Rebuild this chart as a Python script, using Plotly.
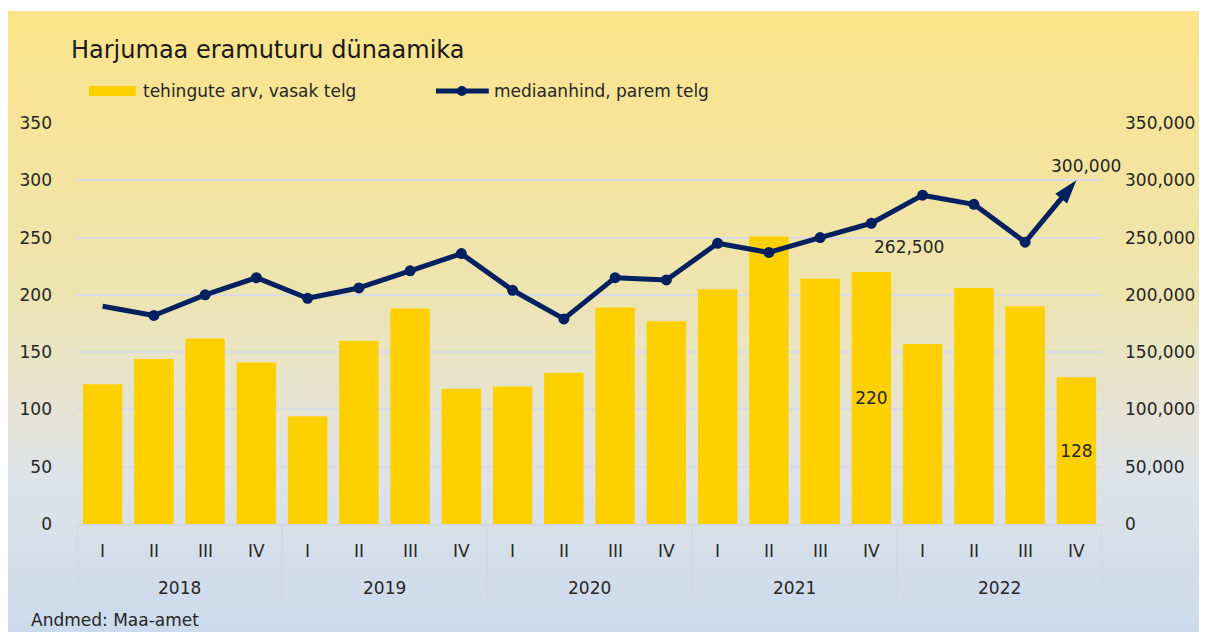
import plotly.graph_objects as go

years = ["2018"] * 4 + ["2019"] * 4 + ["2020"] * 4 + ["2021"] * 4 + ["2022"] * 4
quarters = ["I", "II", "III", "IV"] * 5

# tehingute arv (vasak telg)
deals = [122, 144, 162, 141, 94, 160, 188, 118, 120, 132, 189, 177,
         205, 251, 214, 220, 157, 206, 190, 128]
# mediaanhind (parem telg)
median_price = [190000, 182000, 200000, 215000, 197000, 206000, 221000, 236000,
                204000, 179000, 215000, 213000, 245000, 237000, 250000, 262500,
                287000, 279000, 246000, 300000]

bar_labels = {15: "220", 19: "128"}
line_labels = {15: "262,500", 19: "300,000"}

FONT = "DejaVu Sans"
TXT = "#262626"
OFF = 8  # page margin of the browser
W, H = 1199, 624
L, R, T, B = 69, 102, 115, 108  # plot area in figure pixels


def px2x(px):
    return (px - OFF - L) / (W - L - R)


def py2y(py):
    return (H - B - (py - OFF)) / (H - T - B)


def mix(c1, c2, t):
    return tuple(round(a + (b - a) * t) for a, b in zip(c1, c2))


# background gradient stops (fraction from top, rgb)
stops = [(0.0, (252, 228, 138)), (0.45, (238, 228, 176)),
         (0.75, (223, 227, 232)), (1.0, (203, 218, 236))]


def grad(f):
    for (f0, c0), (f1, c1) in zip(stops, stops[1:]):
        if f <= f1:
            return mix(c0, c1, (f - f0) / (f1 - f0))
    return stops[-1][1]


shapes = []
top, bottom, n = 11, 632, 90
step = (bottom - top) / n
for i in range(n):
    c = grad((i + 0.5) / n)
    y0 = top + i * step
    shapes.append(dict(type="rect", xref="paper", yref="paper", layer="below",
                       x0=px2x(0), x1=px2x(1215), y0=py2y(y0 + step + 0.6), y1=py2y(y0),
                       fillcolor="rgb(%d,%d,%d)" % c, line_width=0))

# legend drawn by hand
shapes.append(dict(type="rect", xref="paper", yref="paper",
                   x0=px2x(89), x1=px2x(136), y0=py2y(96), y1=py2y(86),
                   fillcolor="#FFD000", line_width=0))
shapes.append(dict(type="line", xref="paper", yref="paper",
                   x0=px2x(437), x1=px2x(490), y0=py2y(91), y1=py2y(91),
                   line=dict(color="#002060", width=5)))
shapes.append(dict(type="circle", xref="paper", yref="paper",
                   x0=px2x(458), x1=px2x(468), y0=py2y(96), y1=py2y(86),
                   fillcolor="#002060", line_width=0))

cats = [f"{y} {q}" for y, q in zip(years, quarters)]

fig = go.Figure()
fig.add_trace(go.Bar(
    x=cats, y=deals, name="tehingute arv, vasak telg",
    marker=dict(color="#FFD000", line_width=0),
    text=[bar_labels.get(i, "") for i in range(len(deals))],
    textposition="inside", insidetextanchor="middle", textangle=0,
    textfont=dict(family=FONT, size=17, color=TXT),
))
fig.add_trace(go.Scatter(
    x=cats, y=median_price, name="mediaanhind, parem telg", yaxis="y2",
    mode="lines+markers",
    line=dict(color="#002060", width=5),
    marker=dict(color="#002060", line_width=0, opacity=1,
                symbol=["circle"] * (len(median_price) - 1) + ["arrow"],
                size=[11] * (len(median_price) - 1) + [25],
                angleref="previous"),
))

annotations = [
    dict(text="Harjumaa eramuturu dünaamika", xref="paper", yref="paper",
         x=px2x(69), y=py2y(50), xanchor="left", yanchor="middle", showarrow=False,
         font=dict(family=FONT, size=24, color="#1a1a1a")),
    dict(text="tehingute arv, vasak telg", xref="paper", yref="paper",
         x=px2x(141), y=py2y(91), xanchor="left", yanchor="middle", showarrow=False,
         font=dict(family=FONT, size=17, color=TXT)),
    dict(text="mediaanhind, parem telg", xref="paper", yref="paper",
         x=px2x(493), y=py2y(91), xanchor="left", yanchor="middle", showarrow=False,
         font=dict(family=FONT, size=17, color=TXT)),
    dict(text="Andmed: Maa-amet", xref="paper", yref="paper",
         x=px2x(29), y=py2y(620), xanchor="left", yanchor="middle", showarrow=False,
         font=dict(family=FONT, size=17, color=TXT)),
]
offsets = {15: (38, -24), 19: (10, 14)}
for i, txt in line_labels.items():
    dx, dy = offsets[i]
    annotations.append(dict(text=txt, x=i, y=median_price[i], xref="x", yref="y2",
                            xshift=dx, yshift=dy, showarrow=False,
                            font=dict(family=FONT, size=17, color=TXT)))

# two-level category labels with dividers
for i, q in enumerate(quarters):
    annotations.append(dict(text=q, x=i, xref="x", y=py2y(551), yref="paper",
                            showarrow=False, yanchor="middle",
                            font=dict(family=FONT, size=17, color=TXT)))
groups = []
for i, y in enumerate(years):
    if not groups or groups[-1][0] != y:
        groups.append([y, i, i])
    groups[-1][2] = i
for y, i0, i1 in groups:
    annotations.append(dict(text=y, x=(i0 + i1) / 2, xref="x", y=py2y(588), yref="paper",
                            showarrow=False, yanchor="middle",
                            font=dict(family=FONT, size=17, color=TXT)))
    shapes.append(dict(type="line", xref="x", yref="paper", x0=i0 - 0.5, x1=i0 - 0.5,
                       y0=py2y(524), y1=py2y(601), line=dict(color="#D4D8E0", width=2)))
shapes.append(dict(type="line", xref="x", yref="paper",
                   x0=len(years) - 0.5, x1=len(years) - 0.5,
                   y0=py2y(524), y1=py2y(601), line=dict(color="#D4D8E0", width=2)))

fig.update_layout(
    width=W, height=H,
    margin=dict(l=L, r=R, t=T, b=B),
    paper_bgcolor="white", plot_bgcolor="rgba(0,0,0,0)",
    showlegend=False, bargap=0.23,
    font=dict(family=FONT, size=17, color=TXT),
    shapes=shapes, annotations=annotations,
    xaxis=dict(type="category", range=[-0.5, len(cats) - 0.5], showticklabels=False,
               showline=True, linecolor="#D4D8E0", linewidth=2, ticks="", showgrid=False),
    yaxis=dict(range=[0, 350], dtick=50, showgrid=True, gridcolor="#D9DCE6", gridwidth=1.5,
               zeroline=False, ticklabelstandoff=24,
               tickfont=dict(family=FONT, size=17, color=TXT)),
    yaxis2=dict(range=[0, 350000], dtick=50000, overlaying="y", side="right",
                showgrid=False, zeroline=False, tickformat=",", ticklabelstandoff=22,
                tickfont=dict(family=FONT, size=17, color=TXT)),
)

fig.write_html("out.html")
